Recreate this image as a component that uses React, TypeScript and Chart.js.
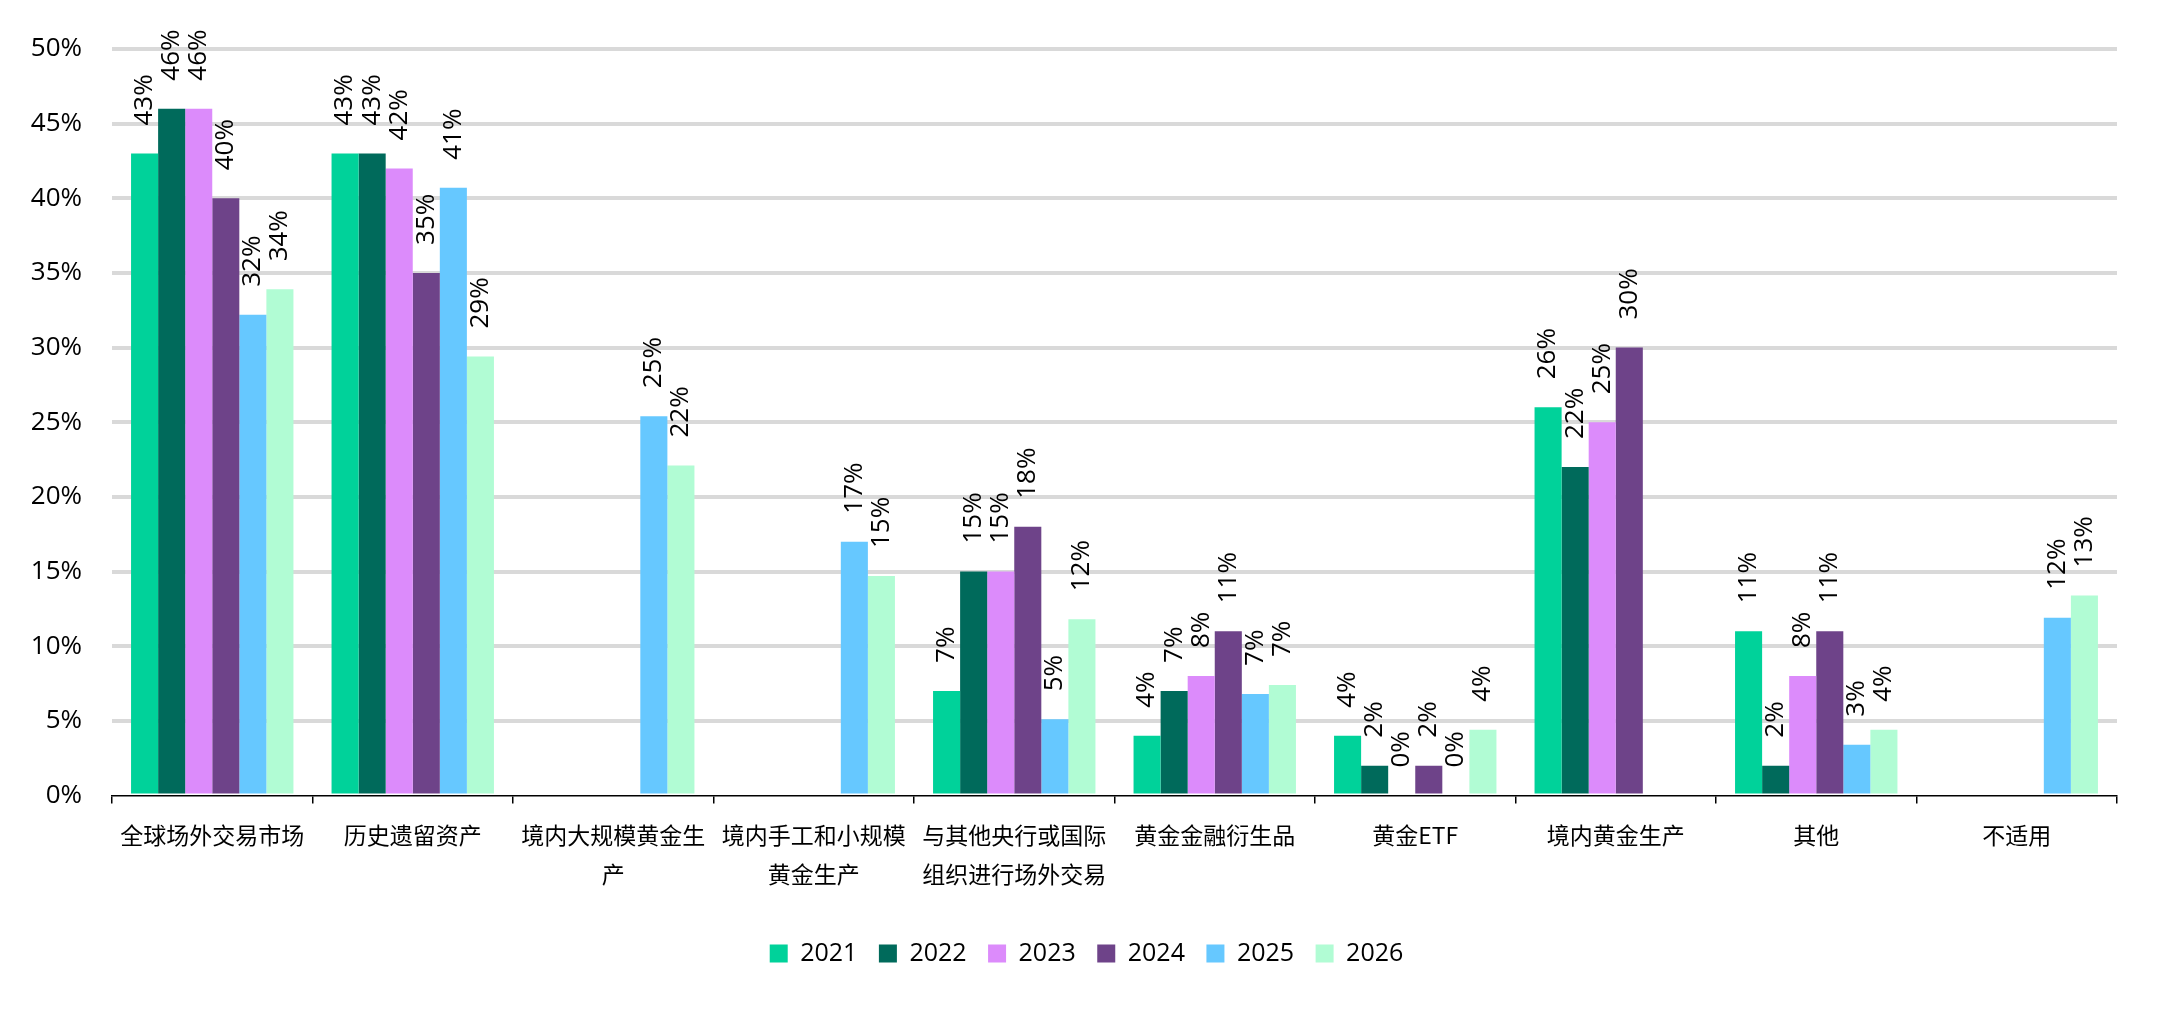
import { useEffect, useRef } from "react";
import { Chart, registerables } from "chart.js";

Chart.register(...registerables);

// Category labels (pre-wrapped into lines)
const categories: string[][] = [
  ["全球场外交易市场"],
  ["历史遗留资产"],
  ["境内大规模黄金生", "产"],
  ["境内手工和小规模", "黄金生产"],
  ["与其他央行或国际", "组织进行场外交易"],
  ["黄金金融衍生品"],
  ["黄金ETF"],
  ["境内黄金生产"],
  ["其他"],
  ["不适用"],
];

const years = ["2021", "2022", "2023", "2024", "2025", "2026"];

// Share of respondents (%) per category, one array per year
const v2021 = [43, 43, null, null, 7, 4, 4, 26, 11, null];
const v2022 = [46, 43, null, null, 15, 7, 2, 22, 2, null];
const v2023 = [46, 42, null, null, 15, 8, 0, 25, 8, null];
const v2024 = [40, 35, null, null, 18, 11, 2, 30, 11, null];
const v2025 = [32.2, 40.7, 25.4, 17.0, 5.1, 6.8, 0, null, 3.4, 11.9];
const v2026 = [33.9, 29.4, 22.1, 14.7, 11.8, 7.4, 4.4, null, 4.4, 13.4];

const seriesValues = [v2021, v2022, v2023, v2024, v2025, v2026];
const seriesColors = ["#00D29A", "#006A5B", "#DC8BFB", "#6E4389", "#66C8FF", "#B1FCD4"];

const yTickValues = [0, 5, 10, 15, 20, 25, 30, 35, 40, 45, 50];

// Rotated percentage labels above each bar
const barValueLabels = {
  id: "barValueLabels",
  afterDatasetsDraw(chart: any) {
    const ctx = chart.ctx;
    ctx.save();
    ctx.font = '26px "Open Sans"';
    ctx.fillStyle = "#000";
    ctx.textAlign = "left";
    ctx.textBaseline = "middle";
    chart.data.datasets.forEach((ds: any, di: number) => {
      const meta = chart.getDatasetMeta(di);
      meta.data.forEach((bar: any, i: number) => {
        const v = ds.data[i];
        if (v === null || v === undefined) return;
        ctx.save();
        ctx.translate(bar.x, bar.y - 28);
        ctx.rotate(-Math.PI / 2);
        ctx.fillText(Math.round(v) + "%", 0, 0);
        ctx.restore();
      });
    });
    ctx.restore();
  },
};

// Nudge the legend row so it sits centred under the whole canvas width
const legendCentering = {
  id: "legendCentering",
  afterLayout(chart: any) {
    const lg = chart.legend;
    if (!lg) return;
    const shift = 28;
    lg.left += shift;
    lg.right += shift;
  },
};

export default function App() {
  const canvasRef = useRef<HTMLCanvasElement | null>(null);

  useEffect(() => {
    if (!canvasRef.current) return;
    const chart = new Chart(canvasRef.current, {
      type: "bar",
      data: {
        labels: categories,
        datasets: years.map((y, i) => ({
          label: y,
          data: seriesValues[i],
          backgroundColor: seriesColors[i],
          borderWidth: 0,
          categoryPercentage: 0.81,
          barPercentage: 1,
        })),
      },
      options: {
        responsive: false,
        animation: false,
        layout: { padding: { left: 0, right: 48, top: 49, bottom: 36 } },
        plugins: {
          legend: {
            position: "bottom",
            labels: {
              boxWidth: 18,
              boxHeight: 18,
              padding: 21.5,
              color: "#000",
              font: { family: '"Open Sans"', size: 25 },
            },
          },
          tooltip: { enabled: false },
        },
        scales: {
          x: {
            grid: {
              display: true,
              drawOnChartArea: false,
              drawTicks: true,
              tickLength: 8,
              color: "#000",
              lineWidth: 1.5,
              offset: true,
            },
            border: { display: true, color: "#000", width: 1.5 },
            ticks: {
              color: "#000",
              font: { family: '"Noto Sans CJK SC"', size: 23, lineHeight: 1.7 },
              padding: 12,
              maxRotation: 0,
              autoSkip: false,
            },
            afterFit: (s: any) => {
              s.height = 124;
            },
          },
          y: {
            min: 0,
            max: 50,
            afterBuildTicks: (s: any) => {
              s.ticks = yTickValues.map((value) => ({ value }));
            },
            ticks: {
              padding: 30,
              color: "#000",
              font: { family: '"Open Sans"', size: 26 },
              callback: (v: any) => v + "%",
            },
            grid: {
              color: (c: any) => (c.tick && c.tick.value === 0 ? "rgba(0,0,0,0)" : "#D9D9D9"),
              lineWidth: 4,
              drawTicks: false,
            },
            border: { display: false },
            afterFit: (s: any) => {
              s.width = 112;
            },
          },
        },
      },
      plugins: [barValueLabels, legendCentering],
    });
    return () => chart.destroy();
  }, []);

  return (
    <div style={{ position: "absolute", left: 0, top: 0, width: 2165, height: 1012, background: "#fff" }}>
      <canvas ref={canvasRef} width={2165} height={1012} style={{ display: "block" }} />
    </div>
  );
}
